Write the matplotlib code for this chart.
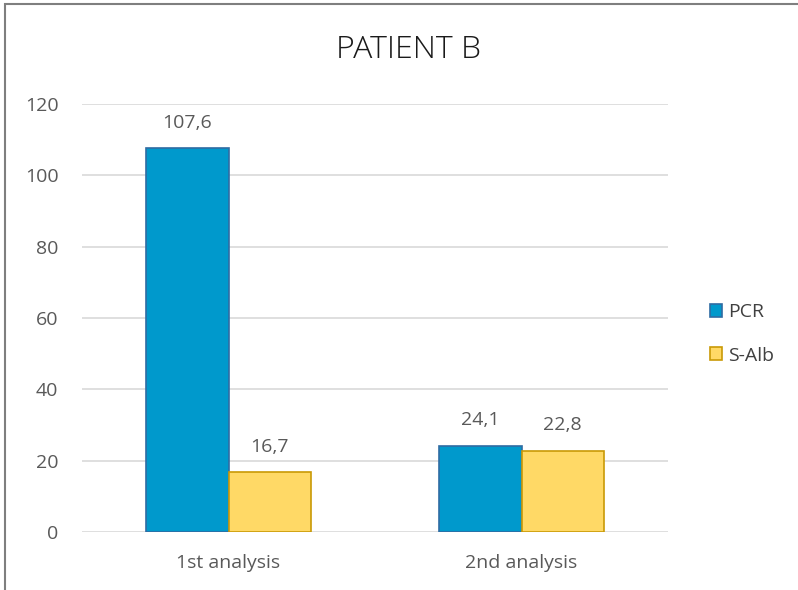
import matplotlib
matplotlib.use("Agg")
import matplotlib.pyplot as plt
import numpy as np
from matplotlib.patches import Rectangle

categories = ["1st analysis", "2nd analysis"]
series_names = ["PCR", "S-Alb"]
pcr = [107.6, 24.1]
salb = [16.7, 22.8]
pcr_labels = ["107,6", "24,1"]
salb_labels = ["16,7", "22,8"]
yticks = [0, 20, 40, 60, 80, 100, 120]

FONT = ["Open Sans", "DejaVu Sans"]
TXT = "#595959"
plt.rcParams["font.family"] = FONT

fig = plt.figure(figsize=(7.98, 5.90), dpi=100)
ax = fig.add_axes([82/798, 1-532/590, (668-82)/798, (532-104)/590])

x = np.arange(len(categories))
w = 0.28
b1 = ax.bar(x - w/2, pcr, w, color="#0099CC", edgecolor="#2F6CA3", linewidth=1.2, label=series_names[0], zorder=3)
b2 = ax.bar(x + w/2, salb, w, color="#FFD966", edgecolor="#C99A06", linewidth=1.2, label=series_names[1], zorder=3)

for rect, lab in zip(b1, pcr_labels):
    ax.annotate(lab, (rect.get_x() + rect.get_width()/2, rect.get_height()),
                xytext=(0, 12), textcoords="offset points", ha="center", va="bottom",
                fontsize=14, color=TXT)
for rect, lab in zip(b2, salb_labels):
    ax.annotate(lab, (rect.get_x() + rect.get_width()/2, rect.get_height()),
                xytext=(0, 12), textcoords="offset points", ha="center", va="bottom",
                fontsize=14, color=TXT)

ax.set_xlim(-0.5, 1.5)
ax.set_ylim(0, 120)
ax.set_yticks(yticks)
ax.set_yticklabels([str(t) for t in yticks], fontsize=14, color=TXT)
ax.set_xticks(x)
ax.set_xticklabels(categories, fontsize=14, color=TXT)
ax.tick_params(axis="both", length=0)
ax.tick_params(axis="x", pad=16)
ax.tick_params(axis="y", pad=17)
ax.grid(axis="y", color="#D9D9D9", linewidth=1.2, zorder=0)
for s in ax.spines.values():
    s.set_visible(False)

leg = fig.legend(handles=[b1, b2], labels=series_names, loc="center left",
                 bbox_to_anchor=(692/798, 1-334/590), frameon=False, fontsize=14,
                 handlelength=0.65, handleheight=0.65, handletextpad=0.3, labelspacing=1.3)
for t in leg.get_texts():
    t.set_color("#404040")

fig.text(408/798, 1-50/590, "PATIENT B", ha="center", va="center", fontsize=23,
         color="#1a1a1a", fontweight="light")

fig.patches.append(Rectangle((5/798, -0.05), 1.1, 1-4/590 + 0.05, transform=fig.transFigure,
                             fill=False, edgecolor="#7F7F7F", linewidth=1.5))

fig.savefig("out.png", dpi=100)
